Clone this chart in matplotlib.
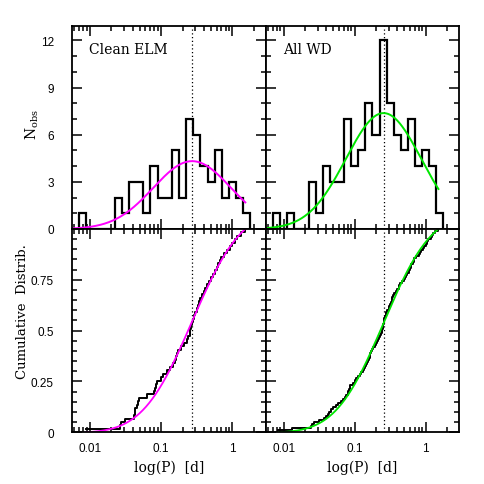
import math
import numpy as np
import matplotlib
matplotlib.use("Agg")
import matplotlib.pyplot as plt
from matplotlib.ticker import FixedLocator, LogLocator, NullFormatter, FuncFormatter

# log10(P/d) of each object
logp_elm = [-2.06,
            -1.58, -1.56,
            -1.50,
            -1.38, -1.37, -1.36,
            -1.34, -1.33, -1.31,
            -1.20,
            -1.10, -1.08, -1.07, -1.06,
            -1.00, -0.97,
            -0.92, -0.88,
            -0.84, -0.81, -0.79, -0.78, -0.76,
            -0.72, -0.68,
            -0.64, -0.62, -0.60, -0.59, -0.58, -0.57, -0.56,
            -0.54, -0.52, -0.50, -0.49, -0.47, -0.46,
            -0.43, -0.40, -0.38, -0.36,
            -0.33, -0.30, -0.27,
            -0.24, -0.22, -0.20, -0.18, -0.16,
            -0.12, -0.08,
            -0.04, 0.00, 0.03,
            0.07, 0.12,
            0.18]

logp_wd = [-2.08,
           -1.88,
           -1.62, -1.60, -1.57,
           -1.50,
           -1.43, -1.40, -1.38, -1.36,
           -1.33, -1.30, -1.27,
           -1.23, -1.20, -1.17,
           -1.14, -1.12, -1.10, -1.09, -1.08, -1.07, -1.06,
           -1.03, -1.00, -0.98, -0.96,
           -0.93, -0.91, -0.89, -0.87, -0.86,
           -0.84, -0.82, -0.81, -0.80, -0.79, -0.78, -0.77, -0.76,
           -0.74, -0.72, -0.70, -0.69, -0.67, -0.66,
           -0.64, -0.63, -0.62, -0.61, -0.60, -0.60, -0.59, -0.59, -0.58, -0.57, -0.56, -0.56,
           -0.54, -0.52, -0.51, -0.50, -0.49, -0.48, -0.47, -0.46,
           -0.44, -0.42, -0.40, -0.38, -0.37, -0.36,
           -0.33, -0.31, -0.29, -0.27, -0.26,
           -0.24, -0.22, -0.21, -0.20, -0.18, -0.17, -0.16,
           -0.13, -0.10, -0.08, -0.06,
           -0.04, -0.02, 0.00, 0.02, 0.04,
           0.07, 0.09, 0.11, 0.13,
           0.18]

# gaussian fits in log P (mean, sigma)
fit_elm = (-0.566, 0.545)
fit_wd = (-0.593, 0.53)

panel_names = ["Clean ELM", "All WD"]
fit_colors = ["#ff00ff", "#00e600"]

bin_lo, bin_hi, bin_w = -2.15, 0.25, 0.1
xlog_min, xlog_max = -2.25, 0.47

W = H = 485.0
fig = plt.figure(figsize=(4.85, 4.85), dpi=100)


def box(l, t, r, b):
    return [l / W, 1 - b / H, (r - l) / W, (b - t) / H]


erf = np.vectorize(math.erf)


def phi(z):
    return 0.5 * (1 + erf(z / math.sqrt(2)))


def style(ax):
    ax.set_xscale("log")
    ax.set_xlim(10 ** xlog_min, 10 ** xlog_max)
    ax.xaxis.set_major_locator(FixedLocator([0.01, 0.1, 1]))
    ax.xaxis.set_minor_locator(LogLocator(base=10, subs=np.arange(2, 10), numticks=20))
    ax.xaxis.set_minor_formatter(NullFormatter())
    ax.tick_params(which="both", direction="in", top=True, right=True, width=1.1)
    ax.tick_params(which="major", length=7, labelsize=8.5, labelfontfamily="Liberation Sans")
    ax.tick_params(which="minor", length=3.5)
    ax.tick_params(axis="x", pad=7)
    ax.tick_params(axis="y", pad=13)
    for s in ax.spines.values():
        s.set_linewidth(1.3)


edges = np.round(np.arange(bin_lo, bin_hi + bin_w / 2, bin_w), 3)
fmt = FuncFormatter(lambda v, p: "%g" % v)

cols = [(72, 266), (266, 459)]
for i, (logp, fit) in enumerate([(logp_elm, fit_elm), (logp_wd, fit_wd)]):
    logp = np.array(logp)
    mu, sig = fit
    n = len(logp)
    l, r = cols[i]
    ax_h = fig.add_axes(box(l, 27.3, r, 230))
    ax_c = fig.add_axes(box(l, 230, r, 433.3))
    for ax in (ax_h, ax_c):
        style(ax)
        ax.axvline(10 ** mu, color="black", ls=(0, (1, 2)), lw=0.9)

    # histogram + gaussian
    ax_h.hist(10 ** logp, bins=10 ** edges, histtype="step", color="black", lw=1.6)
    xx = np.linspace(xlog_min, logp.max(), 300)
    amp = n * bin_w / (math.sqrt(2 * math.pi) * sig)
    ax_h.plot(10 ** xx, amp * np.exp(-0.5 * ((xx - mu) / sig) ** 2), color=fit_colors[i], lw=1.4)
    ax_h.set_ylim(0, 12.9)
    ax_h.yaxis.set_major_locator(FixedLocator([0, 3, 6, 9, 12]))
    ax_h.yaxis.set_minor_locator(FixedLocator(np.arange(0, 13)))
    ax_h.xaxis.set_major_formatter(NullFormatter())
    ax_h.text(0.09, 0.87, panel_names[i], transform=ax_h.transAxes,
              family="DejaVu Serif", fontsize=10)

    # cumulative
    xs = np.sort(logp)
    ys = np.arange(1, n + 1) / n
    ax_c.step(10 ** xs, ys, where="post", color="black", lw=1.4)
    a, b = xs[0], xs[-1]
    xc = np.linspace(a, b, 300)
    pa, pb = phi((a - mu) / sig), phi((b - mu) / sig)
    ax_c.plot(10 ** xc, (phi((xc - mu) / sig) - pa) / (pb - pa), color=fit_colors[i], lw=1.3)
    ax_c.set_ylim(0, 1)
    ax_c.yaxis.set_major_locator(FixedLocator([0, 0.25, 0.5, 0.75, 1.0]))
    ax_c.yaxis.set_minor_locator(FixedLocator(np.arange(0, 1.01, 0.05)))
    ax_c.xaxis.set_major_formatter(fmt)

    if i == 0:
        ax_h.yaxis.set_major_formatter(fmt)
        ax_c.yaxis.set_major_formatter(FuncFormatter(lambda v, p: "" if v >= 1 else "%g" % v))
    else:
        ax_h.yaxis.set_major_formatter(NullFormatter())
        ax_c.yaxis.set_major_formatter(NullFormatter())

    fig.text((l + r) / 2 / W, 1 - 468 / H, "log(P)  [d]", ha="center", va="center",
             family="DejaVu Serif", fontsize=10)

fig.text(32 / W, 1 - 125 / H, r"$\mathrm{N_{obs}}$", rotation=90, ha="center", va="center",
         fontsize=10, math_fontfamily="dejavuserif")
fig.text(23 / W, 1 - 312 / H, "Cumulative  Distrib.", rotation=90, ha="center", va="center",
         family="DejaVu Serif", fontsize=9.5)

fig.savefig("out.png", dpi=100)
